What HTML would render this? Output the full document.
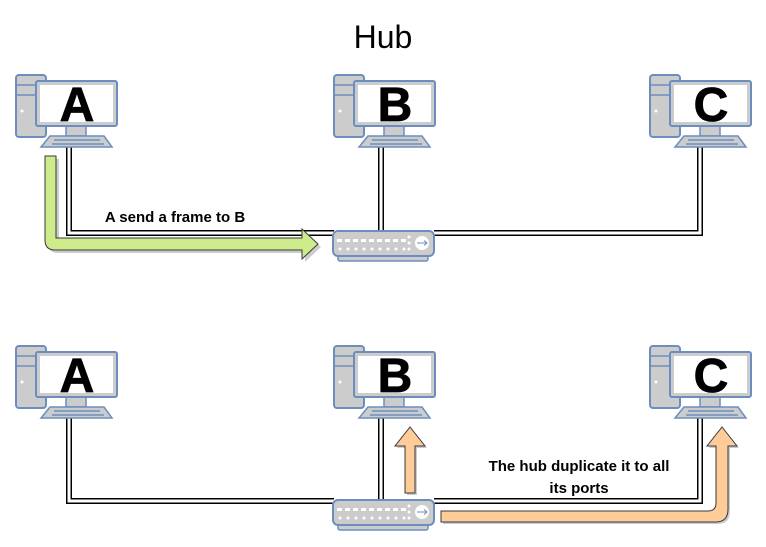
<!DOCTYPE html>
<html><head><style>
body{margin:0;background:#fff;}
svg{display:block;font-family:"Liberation Sans",Arial,sans-serif;}
</style></head><body>
<svg width="766" height="547" viewBox="0 0 766 547" xmlns="http://www.w3.org/2000/svg">
<defs>
<g id="pc">
  <rect x="16" y="75" width="30" height="62" rx="3" fill="#ccc" stroke="#6c8ebf" stroke-width="2"/>
  <line x1="17" y1="85" x2="45" y2="85" stroke="#6c8ebf" stroke-width="1.5"/>
  <line x1="17" y1="95" x2="45" y2="95" stroke="#6c8ebf" stroke-width="1.5"/>
  <circle cx="22" cy="111" r="1.5" fill="#fff"/>
  <rect x="66" y="124" width="20" height="12" fill="#ccc" stroke="#6c8ebf" stroke-width="1.5"/>
  <rect x="36" y="81" width="81" height="45" rx="2" fill="#ccc" stroke="#6c8ebf" stroke-width="2"/>
  <rect x="40" y="85" width="73" height="37" fill="#fff"/>
  <polygon points="41,147 112,147 104,136 50,136" fill="#ccc" stroke="#6c8ebf" stroke-width="1.5"/>
  <line x1="54" y1="140" x2="100" y2="140" stroke="#6c8ebf" stroke-width="1.5"/>
  <line x1="52" y1="144" x2="104" y2="144" stroke="#6c8ebf" stroke-width="1.5"/>
</g>
<g id="hub">
  <rect x="338" y="253" width="90" height="8" rx="2" fill="#ccc" stroke="#6c8ebf" stroke-width="1.5"/>
  <rect x="333" y="231" width="101" height="25" rx="5" fill="#ccc" stroke="#6c8ebf" stroke-width="2"/>
  <g fill="#fff">
    <rect x="337" y="239" width="5" height="3"/><rect x="345" y="239" width="5" height="3"/><rect x="353" y="239" width="5" height="3"/><rect x="361" y="239" width="5" height="3"/><rect x="369" y="239" width="5" height="3"/><rect x="377" y="239" width="5" height="3"/><rect x="385" y="239" width="5" height="3"/><rect x="393" y="239" width="5" height="3"/><rect x="401" y="239" width="5" height="3"/>
    <circle cx="340" cy="249" r="1.5"/><circle cx="348" cy="249" r="1.5"/><circle cx="356" cy="249" r="1.5"/><circle cx="364" cy="249" r="1.5"/><circle cx="372" cy="249" r="1.5"/><circle cx="380" cy="249" r="1.5"/><circle cx="388" cy="249" r="1.5"/><circle cx="396" cy="249" r="1.5"/><circle cx="404" cy="249" r="1.5"/>
    <circle cx="409" cy="237" r="1.5"/><circle cx="409" cy="243" r="1.5"/><circle cx="409" cy="249" r="1.5"/>
    <circle cx="422" cy="243" r="7"/>
  </g>
  <path d="M417 243 H427 M424 240.5 L427 243 L424 245.5" stroke="#6c8ebf" stroke-width="1" fill="none"/>
</g>
</defs>

<text x="383" y="48" text-anchor="middle" font-size="32" fill="#000">Hub</text>

<g fill="none">
  <path d="M69 147 V233 H334 M381 147 V232 M700 147 V233 H434" stroke="#000" stroke-width="6"/>
  <path d="M69 147 V233 H334 M381 147 V232 M700 147 V233 H434" stroke="#fff" stroke-width="3"/>
</g>
<g fill="none">
  <path d="M69 418 V501 H334 M381 418 V500 M700 418 V501 H434" stroke="#000" stroke-width="6"/>
  <path d="M69 418 V501 H334 M381 418 V500 M700 418 V501 H434" stroke="#fff" stroke-width="3"/>
</g>

<use href="#pc"/>
<use href="#pc" x="318"/>
<use href="#pc" x="634"/>
<use href="#pc" y="271"/>
<use href="#pc" x="318" y="271"/>
<use href="#pc" x="634" y="271"/>

<g font-weight="bold" font-size="48" text-anchor="middle" fill="#000" stroke="#000" stroke-width="0.8">
  <text x="77" y="121">A</text>
  <text x="395" y="121">B</text>
  <text x="711" y="121">C</text>
  <text x="77" y="392">A</text>
  <text x="395" y="392">B</text>
  <text x="711" y="392">C</text>
</g>

<use href="#hub"/>
<use href="#hub" y="269"/>

<path d="M47 158 V242 Q47 252 57 252 H304 V261 L320 246 L304 231 V240 H58 V158 Z" fill="#ccc" transform="translate(1,1)"/>
<path d="M45 156 V240 Q45 250 55 250 H302 V259 L318 244 L302 229 V238 H56 V156 Z" fill="#cdeb8b" stroke="#36393d" stroke-width="1"/>

<text x="175" y="222" text-anchor="middle" font-size="15" font-weight="bold">A send a frame to B</text>

<path d="M407 495 V448 H397 L412 429 L427 448 H417 V495 Z" fill="#ccc"/>
<path d="M405 493 V446 H395 L410 427 L425 446 H415 V493 Z" fill="#ffcc99" stroke="#36393d" stroke-width="1"/>
<path d="M443 513 H710 Q718 513 718 505 V448 H709 L724 429 L739 448 H730 V511 Q730 524 718 524 H443 Z" fill="#ccc"/>
<path d="M441 511 H708 Q716 511 716 503 V446 H707 L722 427 L737 446 H728 V509 Q728 522 716 522 H441 Z" fill="#ffcc99" stroke="#36393d" stroke-width="1"/>

<g font-size="15" font-weight="bold" text-anchor="middle">
  <text x="579" y="471">The hub duplicate it to all</text>
  <text x="579" y="493">its ports</text>
</g>
</svg>
</body></html>
